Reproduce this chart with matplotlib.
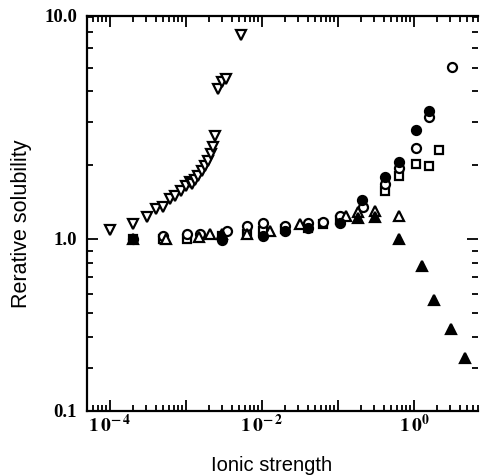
import matplotlib
matplotlib.use("Agg")
import matplotlib.pyplot as plt
from matplotlib.ticker import LogLocator, NullFormatter, FixedLocator

# Relative solubility versus ionic strength, one series per salt system
inv_tri_x = [1.0e-4, 2.01e-4, 3.07e-4, 4.03e-4, 4.98e-4, 6.16e-4, 7.16e-4, 8.59e-4,
             1.0e-3, 1.13e-3, 1.20e-3, 1.31e-3, 1.44e-3, 1.62e-3, 1.78e-3, 1.95e-3,
             2.13e-3, 2.27e-3, 2.41e-3, 2.64e-3, 2.98e-3, 3.36e-3, 5.29e-3]
inv_tri_y = [1.09, 1.16, 1.23, 1.33, 1.36, 1.46, 1.50, 1.57,
             1.65, 1.72, 1.68, 1.74, 1.81, 1.89, 1.99, 2.08,
             2.22, 2.37, 2.63, 4.10, 4.37, 4.50, 6.80]

fcircle_x = [2.0e-4, 3.0e-3, 1.03e-2, 0.0201, 0.0403, 0.106, 0.207, 0.415, 0.635, 1.06, 1.58]
fcircle_y = [1.00, 0.99, 1.03, 1.08, 1.11, 1.17, 1.44, 1.79, 2.06, 2.79, 3.33]

ocircle_x = [4.98e-4, 1.03e-3, 1.53e-3, 3.47e-3, 6.35e-3, 1.03e-2, 0.0201, 0.0403,
             0.0635, 0.106, 0.213, 0.415, 0.635, 1.06, 1.58, 3.16]
ocircle_y = [1.03, 1.05, 1.05, 1.08, 1.13, 1.17, 1.13, 1.17,
             1.18, 1.24, 1.36, 1.68, 1.95, 2.35, 3.15, 5.04]

square_x = [2.0e-4, 4.98e-4, 1.03e-3, 3.0e-3, 6.35e-3, 1.03e-2, 0.0201, 0.0403,
            0.0635, 0.106, 0.415, 0.635, 1.06, 1.58, 2.13]
square_y = [1.00, 1.00, 1.00, 1.03, 1.05, 1.08, 1.10, 1.11,
            1.15, 1.20, 1.57, 1.81, 2.02, 1.99, 2.31]

otri_x = [2.0e-4, 5.5e-4, 1.5e-3, 2.07e-3, 6.35e-3, 1.27e-2, 0.0316, 0.127, 0.183, 0.307, 0.635]
otri_y = [1.00, 1.00, 1.02, 1.05, 1.05, 1.08, 1.15, 1.24, 1.29, 1.31, 1.24]

ftri_x = [2.98e-3, 0.183, 0.307, 0.635, 1.27, 1.83, 3.07, 4.69]
ftri_y = [1.05, 1.22, 1.23, 1.00, 0.776, 0.569, 0.433, 0.330]

x_tick_vals = [1e-4, 1e-2, 1e0]
x_tick_text = [r"$\mathbf{1\,0^{-\,4}}$", r"$\mathbf{1\,0^{-\,2}}$", r"$\mathbf{1\,0^{0}}$"]
y_tick_text = ["0.1", "1.0", "10.0"]

plt.rcParams["mathtext.fontset"] = "stix"

fig = plt.figure(figsize=(4.8, 4.77), dpi=100)
ax = fig.add_axes([0.181, 0.136, 0.815, 0.828])
ax.set_xscale("log")
ax.set_yscale("log")
ax.set_xlim(5e-5, 7.0)
ylo, yhi = 0.2, 8.1
ax.set_ylim(ylo, yhi)

mk = dict(linestyle="none", color="black", markeredgewidth=1.6)
ax.plot(inv_tri_x, inv_tri_y, marker="v", markersize=7, markerfacecolor="white", **mk)
ax.plot(square_x, square_y, marker="s", markersize=6.2, markerfacecolor="white", **mk)
ax.plot(ocircle_x, ocircle_y, marker="o", markersize=6.5, markerfacecolor="white", **mk)
ax.plot(otri_x, otri_y, marker="^", markersize=7, markerfacecolor="white", **mk)
ax.plot(fcircle_x, fcircle_y, marker="o", markersize=6.5, markerfacecolor="black", **mk)
ax.plot(ftri_x, ftri_y, marker="^", markersize=7, markerfacecolor="black", **mk)

for side in ("left", "bottom", "top"):
    ax.spines[side].set_linewidth(1.6)
ax.spines["right"].set_visible(False)

ax.xaxis.set_major_locator(FixedLocator([1e-4, 1e-3, 1e-2, 1e-1, 1e0]))
ax.xaxis.set_minor_locator(LogLocator(base=10, subs=range(2, 10), numticks=20))
ax.xaxis.set_minor_formatter(NullFormatter())
ax.xaxis.set_major_formatter(NullFormatter())
ax.yaxis.set_major_locator(FixedLocator([1.0]))
ax.yaxis.set_minor_locator(LogLocator(base=10, subs=range(2, 10), numticks=20))
ax.yaxis.set_minor_formatter(NullFormatter())
ax.yaxis.set_major_formatter(NullFormatter())

ax.tick_params(which="both", direction="in", top=True, right=True, width=1.3)
ax.tick_params(which="major", length=8)
ax.tick_params(which="minor", length=4)

# decade labels along the bottom
for xv, txt in zip(x_tick_vals, x_tick_text):
    ax.text(xv, -0.005, txt, transform=ax.get_xaxis_transform(), ha="center", va="top",
            fontsize=14)
# end and centre labels along the left edge
for yv, txt in zip([ylo, 1.0, yhi], y_tick_text):
    ax.text(-0.025, yv, txt, transform=ax.get_yaxis_transform(), ha="right", va="center",
            fontsize=13.5, fontweight="bold", family="Liberation Serif")

fig.text(272 / 480, 1 - 466 / 477, "Ionic strength", ha="center", va="center",
         fontsize=14.5, family="Liberation Sans")
fig.text(22 / 480, 1 - 224 / 477, "Rerative solubility", ha="center", va="center",
         rotation=90, fontsize=15.5, family="Liberation Sans")

fig.savefig("out.png", dpi=100)
